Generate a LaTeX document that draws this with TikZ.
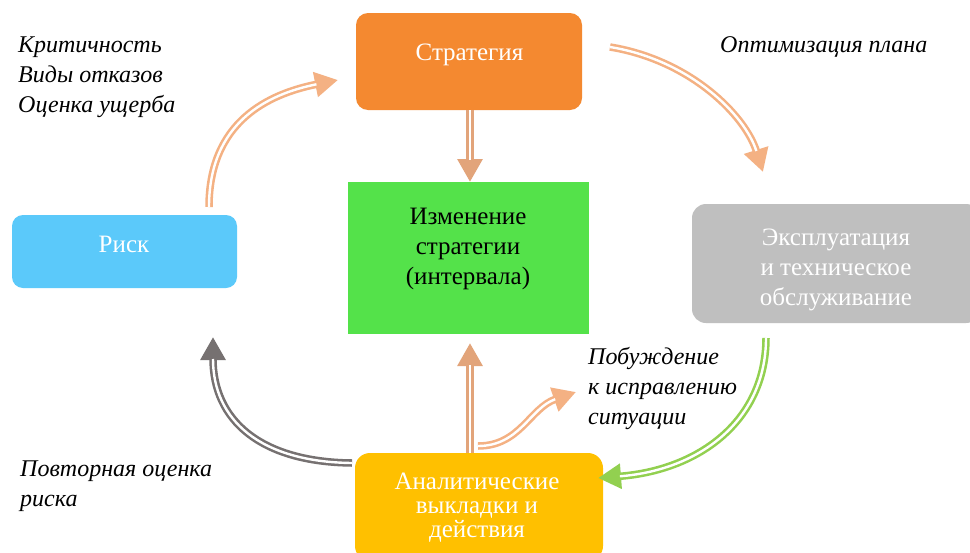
\documentclass[tikz,border=0pt]{standalone}
\usepackage{fontspec}
\setmainfont{Liberation Serif}
\usetikzlibrary{arrows.meta,calc}
\definecolor{cOrange}{RGB}{244,137,48}
\definecolor{cGreenBox}{RGB}{84,226,74}
\definecolor{cBlue}{RGB}{91,201,250}
\definecolor{cGrey}{RGB}{191,191,191}
\definecolor{cAmber}{RGB}{255,192,0}
\definecolor{cPeach}{RGB}{244,177,131}
\definecolor{cPeachDark}{RGB}{226,164,122}
\definecolor{cArrowGreen}{RGB}{146,208,80}
\definecolor{cArrowGrey}{RGB}{118,113,113}
\newcommand\dblarrow[2]{%
  \draw[line width=7.5pt,#1,-{Triangle[length=23pt,width=24pt]}] #2;
  \draw[line width=2.4pt,white,shorten >=22pt] #2;}
\begin{document}
\begin{tikzpicture}[x=1pt,y=-1pt,
  boxshape/.style={draw=none,inner sep=0pt,outer sep=0pt},
  boxtext/.style={inner sep=0pt,align=center,font=\fontsize{25}{30}\selectfont},
  sidelabel/.style={inner sep=0pt,align=left,anchor=north west,font=\fontsize{24}{30}\selectfont\itshape}]
\useasboundingbox (0,0) rectangle (970,552);
\clip (0,0) rectangle (970,552);
\fill[white] (0,0) rectangle (970,552);
% boxes
\node[boxshape,fill=cOrange,rounded corners=12pt,minimum width=226pt,minimum height=97pt] (strat) at (469,61.5) {};
\node[boxshape,fill=cGreenBox,minimum width=241pt,minimum height=152pt] (change) at (468.5,258) {};
\node[boxshape,fill=cBlue,rounded corners=11pt,minimum width=225pt,minimum height=73pt] (risk) at (124.5,251.5) {};
\node[boxshape,fill=cGrey,rounded corners=14pt,minimum width=288pt,minimum height=119pt] (expl) at (836,263.5) {};
\node[boxshape,fill=cAmber,rounded corners=15pt,minimum width=248pt,minimum height=108pt] (anal) at (479,507) {};
% box texts
\node[boxtext,text=white] (strattext) at (469.5,54.5) {Стратегия};
\node[boxtext,text=black] (changetext) at (468,249) {Изменение\\стратегии\\(интервала)};
\node[boxtext,text=white] (risktext) at (124,244) {Риск};
\node[boxtext,text=white] (expltext) at (836,270) {Эксплуатация\\и техническое\\обслуживание};
\node[boxtext,text=white,font=\fontsize{25}{24}\selectfont] (analtext) at (477,507.5) {Аналитические\\выкладки и\\действия};
% side labels
\node[sidelabel] (crit) at (18,37) {Критичность\\Виды отказов\\Оценка ущерба};
\node[sidelabel] (optim) at (720,36) {Оптимизация плана};
\node[sidelabel] (pob) at (588,347) {Побуждение\\к исправлению\\ситуации};
\node[sidelabel] (povt) at (20,461) {Повторная оценка\\риска};
% arrows
\dblarrow{cPeach}{($(risk.north)+(84.5,-8)$) .. controls +(0,-85) and +(-70,14) .. ($(strat.west)+(-18,18.5)$)}
\dblarrow{cPeach}{($(strat.east)+(28,-14.5)$) .. controls +(80,13) and +(-18,-57) .. ($(expl.north west)+(71,-32)$)}
\dblarrow{cPeachDark}{($(strat.south)+(1,0)$) -- ($(change.north)+(1.5,0)$)}
\dblarrow{cPeachDark}{($(anal.north)+(-9,0)$) -- ($(change.south)+(1.5,9)$)}
\dblarrow{cPeach}{($(anal.north)+(-1,-7)$) .. controls +(42,0) and +(-46,16) .. ($(anal.north)+(97,-61)$)}
\dblarrow{cArrowGreen}{($(expl.south west)+(74,15)$) .. controls +(0,82) and +(102,-8) .. ($(anal.east)+(-5,-29)$)}
\dblarrow{cArrowGrey}{($(anal.west)+(-3,-44)$) .. controls +(-92,-1) and +(0,83) .. ($(risk.south)+(88.5,49)$)}
\end{tikzpicture}
\end{document}
